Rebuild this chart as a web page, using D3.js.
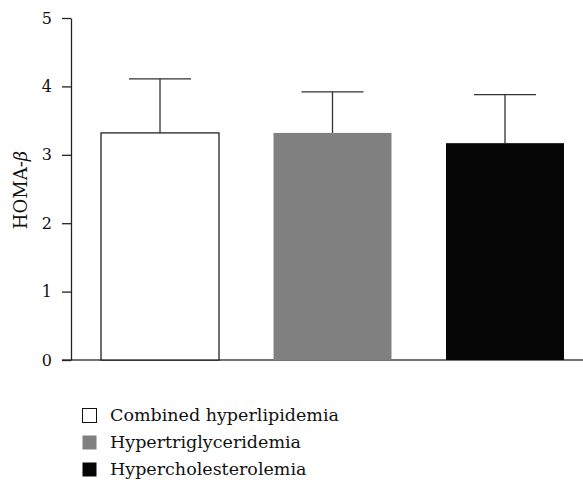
<!DOCTYPE html>
<html>
<head>
<meta charset="utf-8">
<script src="https://cdn.jsdelivr.net/npm/d3@7"></script>
<style>
  body { margin: 0; background: #fff; }
  svg text { font-family: "DejaVu Serif", "Liberation Serif", serif; fill: #111; }
</style>
</head>
<body>
<svg id="chart"></svg>
<script>

var groups = ["Combined hyperlipidemia", "Hypertriglyceridemia", "Hypercholesterolemia"]
var means = [3.32, 3.32, 3.17]
var errors = [0.79, 0.60, 0.71]
var fills = ["#ffffff", "#808080", "#050505"]
var yTicks = [0, 1, 2, 3, 4, 5]

var width = 583
var height = 481
var margin = {top: 18, left: 71, bottom: 121}

var svg = d3.select("#chart")
  .attr("width", width)
  .attr("height", height)

var y = d3.scaleLinear()
  .domain([0, 5])
  .range([height - margin.bottom, margin.top])

var x = d3.scaleBand()
  .domain(groups)
  .range([margin.left, 594])
  .paddingInner(0.316)
  .paddingOuter(0.174)

// x baseline
svg.append("line")
  .attr("x1", margin.left - 9).attr("x2", width)
  .attr("y1", y(0)).attr("y2", y(0))
  .attr("stroke", "#444").attr("stroke-width", 1.3)

// bars
svg.append("g").selectAll("rect")
  .data(groups)
  .enter().append("rect")
  .attr("x", function(d) { return x(d) })
  .attr("y", function(d, i) { return y(means[i]) })
  .attr("width", x.bandwidth())
  .attr("height", function(d, i) { return y(0) - y(means[i]) })
  .attr("fill", function(d, i) { return fills[i] })
  .attr("stroke", function(d, i) { return i == 0 ? "#111" : "none" })
  .attr("stroke-width", 1.2)

// error bars (upper only)
var err = svg.append("g").selectAll("g")
  .data(groups)
  .enter().append("g")
  .attr("stroke", "#333").attr("stroke-width", 1.3)

err.append("line")
  .attr("x1", function(d) { return x(d) + x.bandwidth() / 2 })
  .attr("x2", function(d) { return x(d) + x.bandwidth() / 2 })
  .attr("y1", function(d, i) { return y(means[i]) })
  .attr("y2", function(d, i) { return y(means[i] + errors[i]) })

err.append("line")
  .attr("x1", function(d) { return x(d) + x.bandwidth() / 2 - 31 })
  .attr("x2", function(d) { return x(d) + x.bandwidth() / 2 + 31 })
  .attr("y1", function(d, i) { return y(means[i] + errors[i]) })
  .attr("y2", function(d, i) { return y(means[i] + errors[i]) })

// y axis
var yAxis = svg.append("g")
  .attr("transform", "translate(" + margin.left + ",0)")
  .call(d3.axisLeft(y).tickValues(yTicks).tickFormat(d3.format("d"))
    .tickSize(9).tickPadding(10).tickSizeOuter(0))

yAxis.attr("font-family", null)
yAxis.select(".domain").attr("stroke", "#222").attr("stroke-width", 1.3)
yAxis.selectAll(".tick line").attr("stroke", "#222").attr("stroke-width", 1.3)
yAxis.selectAll(".tick text")
  .style("font-size", "16px")
  .attr("fill", "#111")

var label = svg.append("text")
  .attr("transform", "translate(27,190) rotate(-90)")
  .attr("text-anchor", "middle")
  .style("font-size", "18px")
label.append("tspan").text("HOMA-")
label.append("tspan").attr("font-style", "italic").text("β")

// legend
var legend = svg.append("g").selectAll("g")
  .data(groups)
  .enter().append("g")
  .attr("transform", function(d, i) { return "translate(82," + (408 + i * 27) + ")" })

legend.append("rect")
  .attr("width", 14).attr("height", 14)
  .attr("x", 0.5).attr("y", 0.5)
  .attr("fill", function(d, i) { return fills[i] })
  .attr("stroke", function(d, i) { return i == 0 ? "#111" : "none" })

legend.append("text")
  .attr("x", 28).attr("y", 13)
  .style("font-size", "17.5px")
  .text(function(d) { return d })

</script>
</body>
</html>
